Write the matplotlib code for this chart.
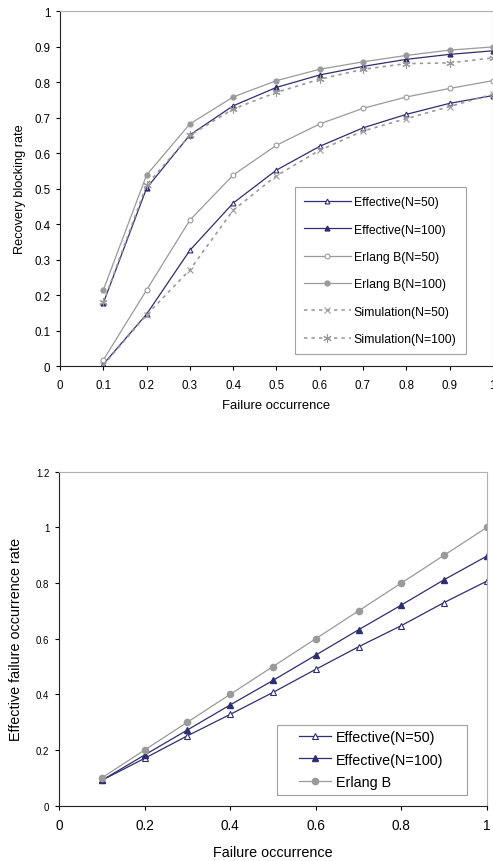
import matplotlib
matplotlib.use("Agg")
import matplotlib.pyplot as plt
import matplotlib.ticker as ticker
from matplotlib.patches import Rectangle

plt.rcParams["font.family"] = ["Liberation Sans", "DejaVu Sans"]

NAVY = "#2E2E70"
GRAY = "#9A9A9A"

# ── data: top chart (recovery blocking rate) ──────────────────────────────────
p = [0.1, 0.2, 0.3, 0.4, 0.5, 0.6, 0.7, 0.8, 0.9, 1.0]
eff_50 = [0.005, 0.146, 0.326, 0.459, 0.552, 0.619, 0.671, 0.709, 0.740, 0.762]
eff_100 = [0.177, 0.501, 0.651, 0.733, 0.785, 0.820, 0.844, 0.864, 0.878, 0.888]
erl_50 = [0.017, 0.214, 0.411, 0.538, 0.622, 0.682, 0.726, 0.758, 0.782, 0.804]
erl_100 = [0.214, 0.538, 0.682, 0.758, 0.804, 0.836, 0.857, 0.875, 0.890, 0.899]
sim_50 = [0.002, 0.144, 0.271, 0.439, 0.536, 0.608, 0.662, 0.697, 0.731, 0.766]
sim_100 = [0.179, 0.510, 0.650, 0.724, 0.771, 0.808, 0.836, 0.852, 0.854, 0.868]

# ── data: bottom chart (effective failure occurrence rate) ────────────────────
eff_rate_50 = [0.091, 0.170, 0.251, 0.328, 0.407, 0.490, 0.571, 0.647, 0.730, 0.807]
eff_rate_100 = [0.091, 0.182, 0.272, 0.362, 0.450, 0.541, 0.632, 0.721, 0.812, 0.897]
erlang_rate = [0.1, 0.2, 0.3, 0.4, 0.5, 0.6, 0.7, 0.8, 0.9, 1.0]

fig = plt.figure(figsize=(4.93, 8.62), dpi=100)


def style_axes(ax, xsize, ysize):
    for s in ["top", "right"]:
        ax.spines[s].set_color("#B0B0B0")
        ax.spines[s].set_linewidth(0.8)
    for s in ["left", "bottom"]:
        ax.spines[s].set_color("#222222")
        ax.spines[s].set_linewidth(0.8)
    ax.tick_params(axis="x", direction="out", length=3, width=0.8,
                   labelsize=xsize, pad=6)
    ax.tick_params(axis="y", direction="out", length=3, width=0.8,
                   labelsize=ysize, pad=4)


fmt = ticker.FuncFormatter(lambda v, _: f"{v:g}")

# ── top ───────────────────────────────────────────────────────────────────────
ax1 = fig.add_axes([0.1217, 0.5742, 0.878, 0.4118])
lw = 0.9
ax1.plot(p, eff_50, color=NAVY, lw=lw, marker="^", ms=3.5, mfc="white",
         mec=NAVY, mew=0.8, label="Effective(N=50)")
ax1.plot(p, eff_100, color=NAVY, lw=lw, marker="^", ms=3.5, mfc=NAVY,
         mec=NAVY, label="Effective(N=100)")
ax1.plot(p, erl_50, color=GRAY, lw=lw, marker="o", ms=3.5, mfc="white",
         mec=GRAY, mew=0.8, label="Erlang B(N=50)")
ax1.plot(p, erl_100, color=GRAY, lw=lw, marker="o", ms=3.5, mfc=GRAY,
         mec=GRAY, label="Erlang B(N=100)")
ax1.plot(p, sim_50, color=GRAY, lw=1.2, ls=(0, (2, 2.5)), marker="x", ms=5,
         mec=GRAY, mew=0.8, label="Simulation(N=50)")
ax1.plot(p, sim_100, color=GRAY, lw=1.2, ls=(0, (2, 2.5)), marker=(6, 2, 0),
         ms=6, mec=GRAY, mew=0.8, label="Simulation(N=100)")

ax1.set_xlim(0, 1)
ax1.set_ylim(0, 1)
ax1.xaxis.set_major_locator(ticker.MultipleLocator(0.1))
ax1.yaxis.set_major_locator(ticker.MultipleLocator(0.1))
ax1.xaxis.set_major_formatter(fmt)
ax1.yaxis.set_major_formatter(fmt)
style_axes(ax1, 8.3, 8.3)
ax1.set_xlabel("Failure occurrence", fontsize=9.4, labelpad=6)
ax1.set_ylabel("Recovery blocking rate", fontsize=9.2, labelpad=6)
leg1 = ax1.legend(loc="lower left", bbox_to_anchor=(0.543, 0.034),
                  borderaxespad=0, fontsize=8.8, labelspacing=1.25,
                  handlelength=3.8, handletextpad=0.25, borderpad=0.75,
                  fancybox=False, framealpha=1)
leg1.get_frame().set_edgecolor("#A0A0A0")
leg1.get_frame().set_linewidth(0.8)

# ── bottom ────────────────────────────────────────────────────────────────────
ax2 = fig.add_axes([0.1197, 0.0642, 0.868, 0.3874])
ax2.plot(p, eff_rate_50, color=NAVY, lw=lw, marker="^", ms=4.5, mfc="white",
         mec=NAVY, mew=0.8, label="Effective(N=50)")
ax2.plot(p, eff_rate_100, color=NAVY, lw=lw, marker="^", ms=4.5, mfc=NAVY,
         mec=NAVY, label="Effective(N=100)")
ax2.plot(p, erlang_rate, color=GRAY, lw=lw, marker="o", ms=4.5, mfc=GRAY,
         mec=GRAY, label="Erlang B")

ax2.set_xlim(0, 1)
ax2.set_ylim(0, 1.2)
ax2.xaxis.set_major_locator(ticker.MultipleLocator(0.2))
ax2.yaxis.set_major_locator(ticker.MultipleLocator(0.2))
ax2.xaxis.set_major_formatter(fmt)
ax2.yaxis.set_major_formatter(fmt)
style_axes(ax2, 9.8, 7)
ax2.set_xlabel("Failure occurrence", fontsize=10.4, labelpad=9)
ax2.set_ylabel("Effective failure occurrence rate", fontsize=10.4, labelpad=9)

# legend box is wider than its entries in the original, so frame drawn apart
ax2.add_patch(Rectangle((0.509, 0.032), 0.444, 0.21, transform=ax2.transAxes,
                        facecolor="white", edgecolor="#A0A0A0", lw=0.8,
                        zorder=4))
leg2 = ax2.legend(loc="lower left", bbox_to_anchor=(0.548, 0.032),
                  borderaxespad=0, fontsize=10.4, labelspacing=0.6,
                  handlelength=2.2, handletextpad=0.35, borderpad=0.4,
                  frameon=False)
leg2.set_zorder(5)

fig.savefig("out.png", dpi=100)
